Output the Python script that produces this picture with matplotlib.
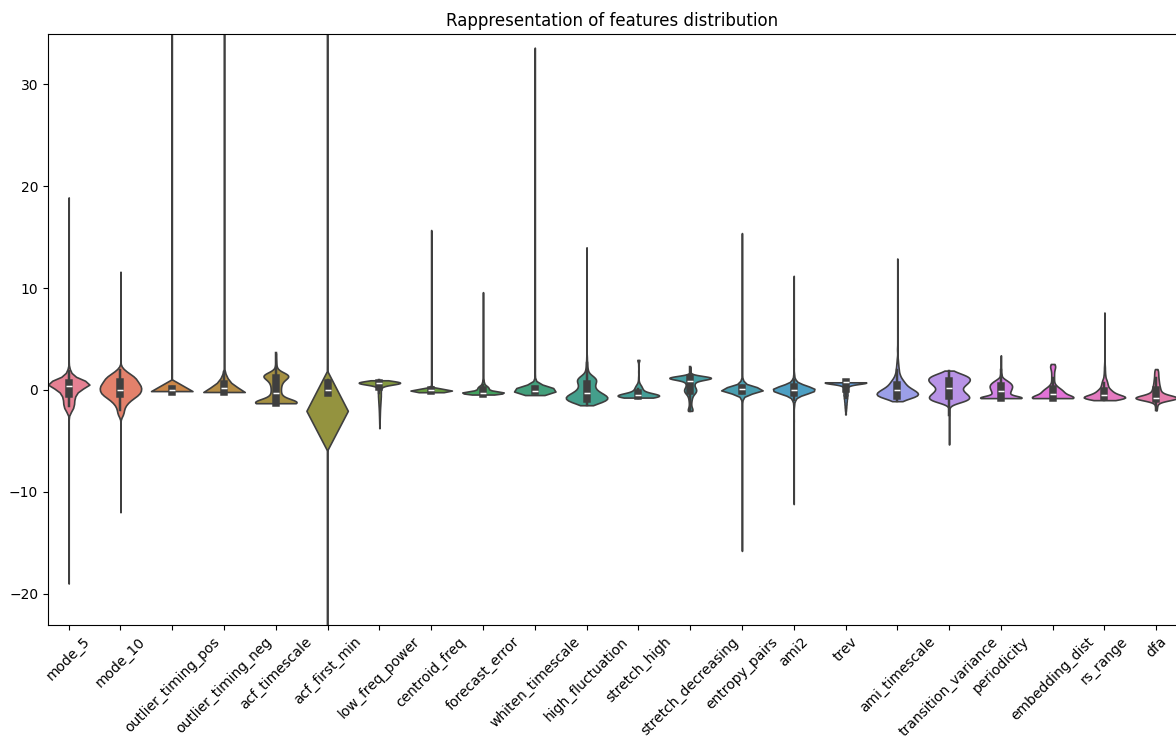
import numpy as np
import pandas as pd
import matplotlib
matplotlib.use("Agg")
import matplotlib.pyplot as plt
import seaborn as sns

features = ["mode_5", "mode_10", "outlier_timing_pos", "outlier_timing_neg",
            "acf_timescale", "acf_first_min", "low_freq_power", "centroid_freq",
            "forecast_error", "whiten_timescale", "high_fluctuation", "stretch_high",
            "stretch_decreasing", "entropy_pairs", "ami2", "trev", "ami_timescale",
            "transition_variance", "periodicity", "embedding_dist", "rs_range", "dfa"]

# scaled feature values (value -> number of series with that value)
mode_5_vals = [-19.0, -2.0, -1.6, -1.2, -0.8, -0.4, 0.0, 0.35, 0.65, 1.0, 1.4, 1.9, 18.9]
mode_5_counts = [1, 40, 60, 60, 60, 80, 110, 140, 280, 110, 50, 20, 1]

mode_10_vals = [-12.0, -4.7, -2.4, -2.0, -1.6, -1.2, -0.8, -0.4, 0.0, 0.4, 0.8, 1.2, 1.6, 2.0, 11.6]
mode_10_counts = [1, 2, 25, 25, 35, 60, 100, 150, 160, 160, 130, 120, 70, 25, 1]

outlier_timing_pos_vals = [-0.16, -0.08, 0.0, 0.1, 0.25, 114.7]
outlier_timing_pos_counts = [6000, 3000, 4000, 4000, 2999, 1]

outlier_timing_neg_vals = [-0.2, 0.0, 0.2, 0.4, 0.6, 0.8, 1.0, 1.2, 1.4, 1.6, 1.8, 2.0, 2.5, 44.35]
outlier_timing_neg_counts = [1500, 900, 700, 550, 400, 300, 220, 160, 110, 70, 40, 20, 10, 1]

acf_timescale_vals = [-1.3, -1.1, -0.9, -0.6, -0.3, 0.0, 0.3, 0.6, 0.9, 1.2, 1.45, 1.7, 2.2, 2.8, 3.6]
acf_timescale_counts = [250, 100, 50, 40, 35, 35, 35, 40, 50, 70, 130, 30, 10, 5, 3]

acf_first_min_vals = [-189.3, -2.1, -0.3, 0.0, 0.3, 0.65, 1.0, 196.8]
acf_first_min_counts = [1, 4400, 3000, 4000, 3000, 4000, 1598, 1]

low_freq_power_vals = [0.95, 0.8, 0.7, 0.6, 0.45, 0.25, 0.0, -0.3, -0.6, -0.9, -1.2,
                       -1.5, -1.8, -2.1, -2.4, -2.7, -3.0, -3.3, -3.75]
low_freq_power_counts = [100, 1000, 1500, 700, 200, 150, 150, 150, 150, 130, 110,
                         90, 70, 55, 45, 35, 25, 20, 20]

centroid_freq_vals = [-0.22, -0.12, -0.05, 0.05, 0.2, 15.7]
centroid_freq_counts = [100, 300, 350, 200, 49, 1]

forecast_error_vals = [-0.45, -0.35, -0.25, -0.15, 0.0, 0.15, 0.3, 0.45, 0.7, 1.0, 1.5, 2.5, 9.6]
forecast_error_counts = [40, 250, 280, 100, 70, 80, 70, 40, 25, 15, 8, 3, 1]

whiten_timescale_vals = [-0.5, -0.3, -0.1, 0.1, 0.3, 0.5, 0.8, 1.5, 33.6]
whiten_timescale_counts = [40, 200, 300, 250, 150, 40, 15, 4, 1]

high_fluctuation_vals = [-1.5, -1.2, -0.9, -0.6, -0.3, 0.0, 0.3, 0.6, 0.9, 1.2, 1.5, 2.0, 2.6, 3.2, 14.0]
high_fluctuation_counts = [30, 120, 170, 160, 110, 70, 60, 60, 80, 70, 30, 15, 8, 4, 1]

stretch_high_vals = [-0.75, -0.6, -0.45, -0.3, -0.1, 0.1, 0.3, 0.5, 0.8, 1.2, 1.8, 2.4, 2.95]
stretch_high_counts = [150, 250, 200, 100, 60, 50, 40, 30, 10, 5, 3, 3, 25]

stretch_decreasing_vals = [-2.05, -1.85, -1.6, -1.3, -1.0, -0.7, -0.4, -0.15, 0.1, 0.35,
                           0.6, 0.85, 1.05, 1.2, 1.5, 1.9, 2.3]
stretch_decreasing_counts = [120, 100, 60, 60, 80, 120, 200, 300, 300, 200,
                             200, 250, 200, 1600, 30, 15, 10]

entropy_pairs_vals = [-15.8, -3.0, -1.5, -1.0, -0.6, -0.3, -0.1, 0.05, 0.2, 0.4, 0.7, 1.0, 1.5, 3.0, 15.4]
entropy_pairs_counts = [1, 1, 4, 12, 40, 140, 220, 240, 180, 100, 40, 16, 5, 1, 1]

ami2_vals = [-11.2, -3.0, -1.5, -1.0, -0.6, -0.3, 0.0, 0.3, 0.6, 1.0, 1.5, 3.0, 11.2]
ami2_counts = [1, 2, 8, 25, 75, 200, 320, 220, 100, 30, 9, 2, 1]

trev_vals = [-2.4, -2.0, -1.7, -1.4, -1.1, -0.8, -0.5, -0.2, 0.1, 0.4, 0.6, 0.75]
trev_counts = [40, 60, 90, 120, 150, 200, 250, 250, 250, 300, 600, 2600]

ami_timescale_vals = [-1.1, -0.8, -0.55, -0.3, -0.05, 0.2, 0.5, 0.8, 1.1, 1.5, 2.0,
                      2.5, 3.0, 4.0, 6.0, 9.0, 12.9]
ami_timescale_counts = [30, 100, 180, 160, 130, 100, 80, 60, 44, 32, 22, 14, 8, 4, 1, 1, 1]

transition_variance_vals = [-5.35, -4.4, -3.4, -2.5, -1.8, -1.3, -1.1, -0.85, -0.6, -0.35,
                            -0.1, 0.15, 0.4, 0.65, 0.9, 1.15, 1.4, 1.65, 1.9]
transition_variance_counts = [1, 1, 1, 1, 2, 16, 70, 90, 84, 70, 56, 50, 60, 76, 86, 90, 76, 40, 12]

periodicity_vals = [-0.8, -0.65, -0.4, -0.15, 0.1, 0.35, 0.6, 0.85, 1.1, 1.5, 2.0, 2.5, 3.0, 3.4]
periodicity_counts = [250, 100, 80, 90, 100, 110, 100, 70, 30, 10, 4, 2, 2, 1]

embedding_dist_vals = [-0.8, -0.65, -0.4, -0.15, 0.1, 0.35, 0.6, 0.9, 1.2, 1.5, 1.8, 2.1, 2.35, 2.55]
embedding_dist_counts = [260, 80, 80, 90, 60, 30, 12, 12, 12, 12, 12, 16, 24, 12]

rs_range_vals = [-1.0, -0.85, -0.7, -0.5, -0.3, -0.1, 0.1, 0.4, 0.7, 1.0, 1.4, 1.8,
                 2.2, 2.6, 3.5, 5.0, 7.6]
rs_range_counts = [40, 180, 220, 140, 90, 70, 60, 50, 40, 30, 16, 10, 8, 4, 2, 1, 1]

dfa_vals = [-2.0, -1.7, -1.4, -1.1, -0.9, -0.75, -0.55, -0.3, 0.0, 0.3, 0.6, 0.9,
            1.2, 1.5, 1.8, 2.05]
dfa_counts = [6, 12, 16, 40, 180, 260, 120, 70, 60, 50, 40, 36, 30, 28, 26, 16]

table = {
    "mode_5": (mode_5_vals, mode_5_counts),
    "mode_10": (mode_10_vals, mode_10_counts),
    "outlier_timing_pos": (outlier_timing_pos_vals, outlier_timing_pos_counts),
    "outlier_timing_neg": (outlier_timing_neg_vals, outlier_timing_neg_counts),
    "acf_timescale": (acf_timescale_vals, acf_timescale_counts),
    "acf_first_min": (acf_first_min_vals, acf_first_min_counts),
    "low_freq_power": (low_freq_power_vals, low_freq_power_counts),
    "centroid_freq": (centroid_freq_vals, centroid_freq_counts),
    "forecast_error": (forecast_error_vals, forecast_error_counts),
    "whiten_timescale": (whiten_timescale_vals, whiten_timescale_counts),
    "high_fluctuation": (high_fluctuation_vals, high_fluctuation_counts),
    "stretch_high": (stretch_high_vals, stretch_high_counts),
    "stretch_decreasing": (stretch_decreasing_vals, stretch_decreasing_counts),
    "entropy_pairs": (entropy_pairs_vals, entropy_pairs_counts),
    "ami2": (ami2_vals, ami2_counts),
    "trev": (trev_vals, trev_counts),
    "ami_timescale": (ami_timescale_vals, ami_timescale_counts),
    "transition_variance": (transition_variance_vals, transition_variance_counts),
    "periodicity": (periodicity_vals, periodicity_counts),
    "embedding_dist": (embedding_dist_vals, embedding_dist_counts),
    "rs_range": (rs_range_vals, rs_range_counts),
    "dfa": (dfa_vals, dfa_counts),
}

# long format: one row per series
frames = []
for name in features:
    vals, counts = table[name]
    values = np.repeat(vals, counts)
    frames.append(pd.DataFrame({"feature": name, "value": values}))
long_df = pd.concat(frames, ignore_index=True)

plt.rcParams["font.size"] = 10

fig = plt.figure(figsize=(11.76, 7.42), dpi=100)
ax = fig.add_axes([0.0408, 0.158, 0.96, 0.796])

sns.violinplot(data=long_df, x="feature", y="value", hue="feature",
               order=features, hue_order=features, palette="husl",
               cut=0, density_norm="width", inner="box", legend=False,
               linewidth=1.2, ax=ax)

ax.set_xlim(-0.4, 21.4)
ax.set_ylim(-23.05, 34.93)
ax.set_xlabel("")
ax.set_ylabel("")
ax.set_title("Rappresentation of features distribution", fontsize=12)
plt.setp(ax.get_xticklabels(), rotation=45)

fig.savefig("out.png", dpi=100)
